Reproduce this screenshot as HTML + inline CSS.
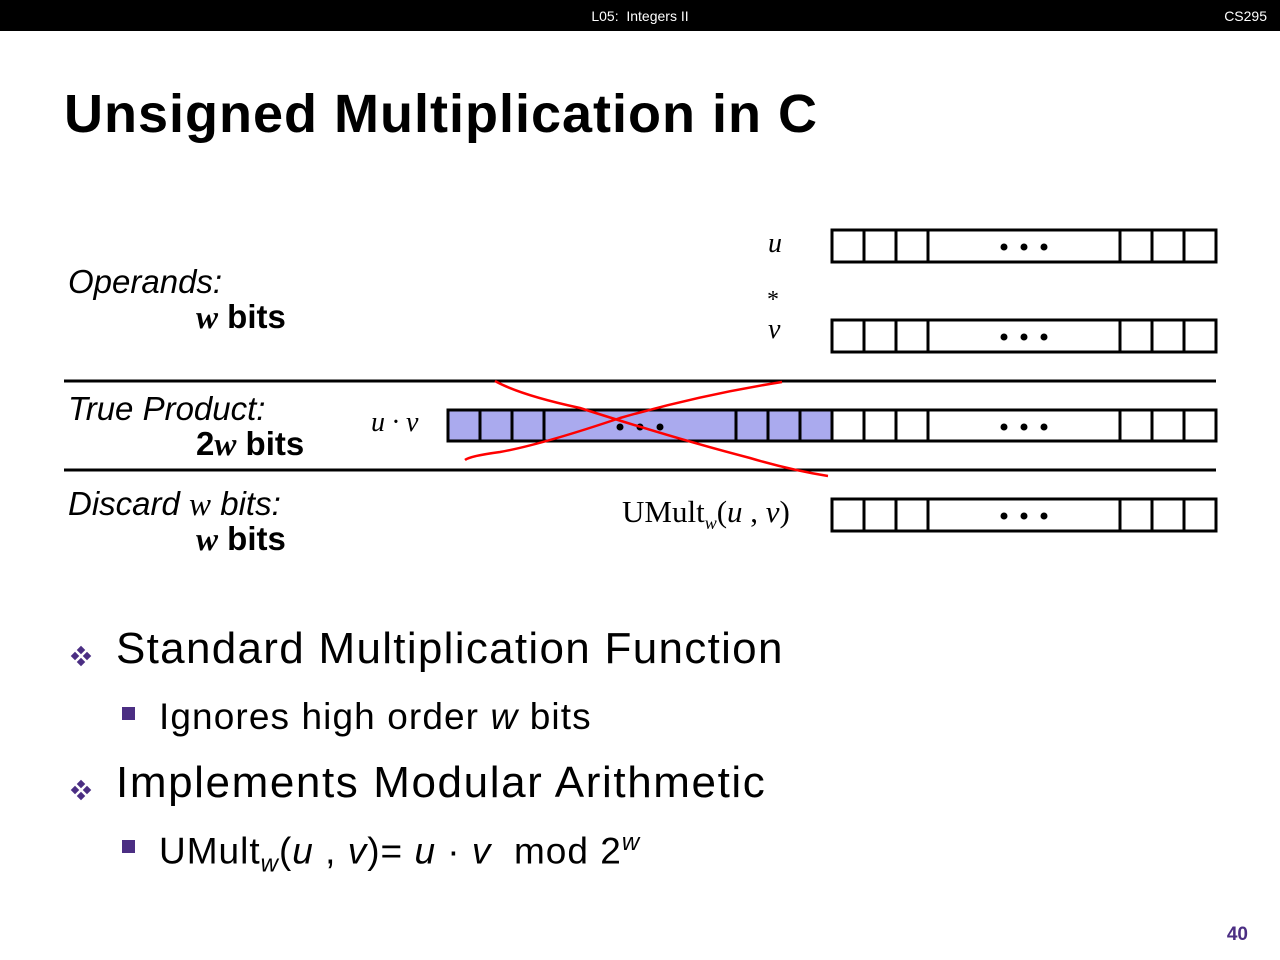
<!DOCTYPE html>
<html><head><meta charset="utf-8"><style>
body{margin:0;width:1280px;height:960px;background:#fff;overflow:hidden;position:relative;font-family:"Liberation Sans",sans-serif}
.t{position:absolute;white-space:nowrap}
</style></head><body>
<div style="position:absolute;left:0;top:0;width:1280px;height:31px;background:#000"></div>
<div class="t" style="left:0;width:1280px;text-align:center;top:8px;color:#fff;font-size:14px">L05:&nbsp; Integers II</div>
<div class="t" style="right:13px;top:8px;color:#fff;font-size:14px">CS295</div>
<div class="t" style="left:64px;top:83px;font-size:54px;font-weight:bold;letter-spacing:1px">Unsigned Multiplication in C</div>

<div class="t" style="left:68px;top:263px;font-size:33px;font-style:italic">Operands:</div>
<div class="t" style="left:196px;top:298px;font-size:33px;font-weight:bold"><i style="font-family:'Liberation Serif',serif">w</i> bits</div>
<div class="t" style="left:68px;top:390px;font-size:33px;font-style:italic">True Product:</div>
<div class="t" style="left:196px;top:425px;font-size:33px;font-weight:bold">2<i style="font-family:'Liberation Serif',serif">w</i> bits</div>
<div class="t" style="left:68px;top:485px;font-size:33px;font-style:italic">Discard <span style="font-family:'Liberation Serif',serif">w</span> bits:</div>
<div class="t" style="left:196px;top:520px;font-size:33px;font-weight:bold"><i style="font-family:'Liberation Serif',serif">w</i> bits</div>

<svg width="1280" height="960" style="position:absolute;left:0;top:0" font-family="Liberation Serif,serif">
<g font-size="28" font-style="italic">
<text x="768" y="252">u</text>
<text x="768" y="338">v</text>
<text x="371" y="431">u · v</text>
</g>
<text x="767" y="307" font-size="24">*</text>
<text x="622" y="522" font-size="31">UMult<tspan font-size="18" font-style="italic" dy="7">w</tspan><tspan dy="-7">(</tspan><tspan font-style="italic">u</tspan> , <tspan font-style="italic">v</tspan>)</text>
<rect x="448" y="410" width="384" height="31" fill="#aaaaee"/>
<g fill="none" stroke="#000" stroke-width="3">
<line x1="64" y1="381" x2="1216" y2="381"/>
<line x1="64" y1="470" x2="1216" y2="470"/>
<rect x="832" y="230" width="384" height="32"/>
<rect x="832" y="320" width="384" height="32"/>
<rect x="448" y="410" width="768" height="31"/>
<rect x="832" y="499" width="384" height="32"/>
<path d="M864 230v32M896 230v32M928 230v32M1120 230v32M1152 230v32M1184 230v32"/>
<path d="M864 320v32M896 320v32M928 320v32M1120 320v32M1152 320v32M1184 320v32"/>
<path d="M864 499v32M896 499v32M928 499v32M1120 499v32M1152 499v32M1184 499v32"/>
<path d="M480 410v31M512 410v31M544 410v31M736 410v31M768 410v31M800 410v31M832 410v31M864 410v31M896 410v31M928 410v31M1120 410v31M1152 410v31M1184 410v31"/>
</g>
<g fill="#000">
<circle cx="1004" cy="247" r="3.5"/><circle cx="1024" cy="247" r="3.5"/><circle cx="1044" cy="247" r="3.5"/>
<circle cx="1004" cy="337" r="3.5"/><circle cx="1024" cy="337" r="3.5"/><circle cx="1044" cy="337" r="3.5"/>
<circle cx="1004" cy="427" r="3.5"/><circle cx="1024" cy="427" r="3.5"/><circle cx="1044" cy="427" r="3.5"/>
<circle cx="1004" cy="516" r="3.5"/><circle cx="1024" cy="516" r="3.5"/><circle cx="1044" cy="516" r="3.5"/>
<circle cx="620" cy="427" r="3.5"/><circle cx="640" cy="427" r="3.5"/><circle cx="660" cy="427" r="3.5"/>
</g>
<g fill="none" stroke="#f00" stroke-width="2.5">
<path d="M495 381 Q520 395 580 408 Q680 440 750 458 Q790 470 828 476"/>
<path d="M782 382 Q700 395 620 418 Q540 445 500 452 Q470 456 465 460"/>
</g>
<g fill="#4b2e83">
<g transform="translate(81,656)"><rect x="-3" y="-9" width="6" height="6" transform="rotate(45 0 -6)"/><rect x="-3" y="3" width="6" height="6" transform="rotate(45 0 6)"/><rect x="-9" y="-3" width="6" height="6" transform="rotate(45 -6 0)"/><rect x="3" y="-3" width="6" height="6" transform="rotate(45 6 0)"/></g>
<g transform="translate(81,790)"><rect x="-3" y="-9" width="6" height="6" transform="rotate(45 0 -6)"/><rect x="-3" y="3" width="6" height="6" transform="rotate(45 0 6)"/><rect x="-9" y="-3" width="6" height="6" transform="rotate(45 -6 0)"/><rect x="3" y="-3" width="6" height="6" transform="rotate(45 6 0)"/></g>
<rect x="122" y="707" width="13" height="13"/>
<rect x="122" y="840" width="13" height="13"/>
</g>
</svg>
<div class="t" style="left:116px;top:624px;font-size:44px;letter-spacing:1.3px">Standard Multiplication Function</div>
<div class="t" style="left:159px;top:696px;font-size:37px;letter-spacing:1.1px">Ignores high order <i>w</i> bits</div>
<div class="t" style="left:116px;top:758px;font-size:44px;letter-spacing:1.6px">Implements Modular Arithmetic</div>
<div class="t" style="left:159px;top:829px;font-size:37px;letter-spacing:1px">UMult<sub style="font-size:24px"><i>w</i></sub>(<i>u</i> , <i>v</i>)= <i>u</i> · <i>v</i>&nbsp; mod 2<sup style="font-size:24px"><i>w</i></sup></div>
<div class="t" style="right:32px;top:924px;font-size:19px;font-weight:bold;color:#4b2e83">40</div>
</body></html>
